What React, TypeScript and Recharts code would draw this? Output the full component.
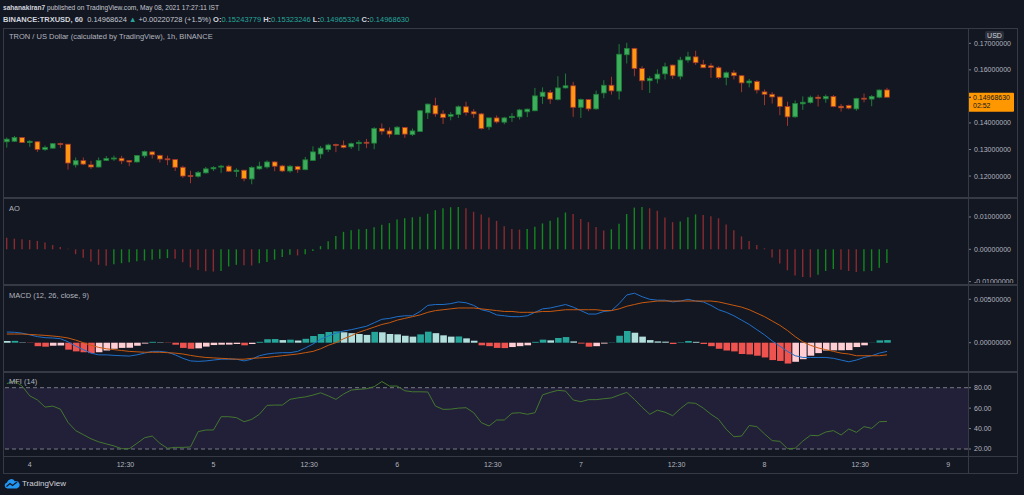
import React from 'react';
import { ComposedChart, Bar, Line, XAxis, YAxis, Cell, ReferenceLine, ReferenceArea } from 'recharts';

// TRXUSD 1h candles, first one is May 3 21:00 (index 0)
const ohlc: [number, number, number, number][] = [
  [0.1329, 0.1345, 0.1307, 0.1339], [0.1331, 0.1351, 0.1329, 0.1345], [0.1345, 0.1346, 0.1325, 0.1326], [0.1326, 0.1335, 0.1310, 0.1331],
  [0.1329, 0.1331, 0.1291, 0.1300], [0.1300, 0.1315, 0.1295, 0.1308], [0.1305, 0.1324, 0.1303, 0.1322], [0.1322, 0.1326, 0.1306, 0.1319],
  [0.1320, 0.1321, 0.1224, 0.1249], [0.1242, 0.1270, 0.1232, 0.1258], [0.1258, 0.1270, 0.1241, 0.1245], [0.1242, 0.1257, 0.1227, 0.1234],
  [0.1234, 0.1270, 0.1232, 0.1259], [0.1259, 0.1275, 0.1257, 0.1266], [0.1264, 0.1277, 0.1257, 0.1268], [0.1267, 0.1276, 0.1245, 0.1257],
  [0.1258, 0.1259, 0.1237, 0.1253], [0.1253, 0.1279, 0.1251, 0.1277], [0.1276, 0.1296, 0.1268, 0.1292], [0.1291, 0.1293, 0.1266, 0.1280],
  [0.1278, 0.1280, 0.1251, 0.1264], [0.1264, 0.1277, 0.1241, 0.1262], [0.1262, 0.1263, 0.1219, 0.1233], [0.1233, 0.1239, 0.1193, 0.1200],
  [0.1201, 0.1220, 0.1173, 0.1199], [0.1199, 0.1219, 0.1194, 0.1213], [0.1212, 0.1234, 0.1209, 0.1227], [0.1227, 0.1237, 0.1219, 0.1232],
  [0.1234, 0.1242, 0.1212, 0.1237], [0.1237, 0.1242, 0.1215, 0.1218], [0.1217, 0.1229, 0.1197, 0.1222], [0.1222, 0.1223, 0.1180, 0.1190],
  [0.1189, 0.1237, 0.1169, 0.1232], [0.1227, 0.1254, 0.1224, 0.1237], [0.1234, 0.1259, 0.1228, 0.1253], [0.1253, 0.1256, 0.1218, 0.1237],
  [0.1238, 0.1242, 0.1215, 0.1219], [0.1219, 0.1241, 0.1213, 0.1237], [0.1236, 0.1239, 0.1212, 0.1224], [0.1224, 0.1272, 0.1222, 0.1261],
  [0.1259, 0.1312, 0.1257, 0.1291], [0.1283, 0.1313, 0.1266, 0.1305], [0.1300, 0.1322, 0.1291, 0.1317], [0.1319, 0.1322, 0.1290, 0.1315],
  [0.1316, 0.1334, 0.1304, 0.1308], [0.1310, 0.1326, 0.1302, 0.1322], [0.1322, 0.1335, 0.1295, 0.1327], [0.1327, 0.1340, 0.1305, 0.1324],
  [0.1324, 0.1384, 0.1301, 0.1379], [0.1379, 0.1398, 0.1356, 0.1369], [0.1370, 0.1383, 0.1345, 0.1358], [0.1356, 0.1388, 0.1355, 0.1384],
  [0.1383, 0.1385, 0.1344, 0.1358], [0.1356, 0.1379, 0.1351, 0.1370], [0.1368, 0.1448, 0.1366, 0.1446], [0.1438, 0.1473, 0.1415, 0.1471],
  [0.1466, 0.1495, 0.1423, 0.1434], [0.1434, 0.1448, 0.1396, 0.1420], [0.1425, 0.1441, 0.1410, 0.1432], [0.1432, 0.1466, 0.1419, 0.1461],
  [0.1461, 0.1480, 0.1428, 0.1439], [0.1442, 0.1452, 0.1419, 0.1434], [0.1434, 0.1438, 0.1375, 0.1379], [0.1385, 0.1420, 0.1374, 0.1419],
  [0.1419, 0.1428, 0.1398, 0.1404], [0.1403, 0.1423, 0.1395, 0.1419], [0.1420, 0.1437, 0.1404, 0.1425], [0.1423, 0.1453, 0.1413, 0.1449],
  [0.1442, 0.1454, 0.1422, 0.1452], [0.1446, 0.1532, 0.1444, 0.1502], [0.1500, 0.1534, 0.1472, 0.1516], [0.1515, 0.1524, 0.1472, 0.1490],
  [0.1488, 0.1576, 0.1485, 0.1532], [0.1532, 0.1586, 0.1530, 0.1540], [0.1540, 0.1555, 0.1423, 0.1459], [0.1459, 0.1492, 0.1419, 0.1488],
  [0.1488, 0.1490, 0.1444, 0.1453], [0.1453, 0.1522, 0.1450, 0.1508], [0.1513, 0.1561, 0.1493, 0.1542], [0.1542, 0.1574, 0.1507, 0.1521],
  [0.1520, 0.1697, 0.1488, 0.1659], [0.1657, 0.1702, 0.1624, 0.1681], [0.1681, 0.1683, 0.1576, 0.1605], [0.1605, 0.1614, 0.1524, 0.1559],
  [0.1559, 0.1576, 0.1513, 0.1568], [0.1566, 0.1602, 0.1549, 0.1584], [0.1585, 0.1627, 0.1564, 0.1612], [0.1618, 0.1620, 0.1566, 0.1578],
  [0.1576, 0.1649, 0.1564, 0.1637], [0.1637, 0.1668, 0.1627, 0.1649], [0.1649, 0.1672, 0.1619, 0.1627], [0.1620, 0.1638, 0.1607, 0.1608],
  [0.1615, 0.1625, 0.1570, 0.1609], [0.1608, 0.1614, 0.1565, 0.1571], [0.1571, 0.1594, 0.1542, 0.1589], [0.1589, 0.1599, 0.1564, 0.1578],
  [0.1578, 0.1580, 0.1516, 0.1551], [0.1551, 0.1566, 0.1534, 0.1558], [0.1556, 0.1561, 0.1511, 0.1524], [0.1517, 0.1526, 0.1467, 0.1508],
  [0.1508, 0.1516, 0.1473, 0.1498], [0.1498, 0.1500, 0.1429, 0.1462], [0.1462, 0.1480, 0.1389, 0.1423], [0.1423, 0.1485, 0.1420, 0.1473],
  [0.1472, 0.1500, 0.1449, 0.1478], [0.1477, 0.1503, 0.1473, 0.1497], [0.1497, 0.1506, 0.1462, 0.1492], [0.1491, 0.1507, 0.1476, 0.1500],
  [0.1500, 0.1505, 0.1459, 0.1462], [0.1463, 0.1471, 0.1443, 0.1457], [0.1466, 0.1469, 0.1451, 0.1456], [0.1453, 0.1495, 0.1446, 0.1492],
  [0.1493, 0.1511, 0.1478, 0.1490], [0.1490, 0.1505, 0.1463, 0.1500], [0.1497, 0.1526, 0.1493, 0.1524], [0.15244, 0.15323, 0.14965, 0.14969],
];

const aoValues = [
  0.0036, 0.0033, 0.0031, 0.0029, 0.0026, 0.0021, 0.0013, 0.0007, 0.0002, -0.0015, -0.0026, -0.0038, -0.0048, -0.0051, -0.0046, -0.0043,
  -0.004, -0.0037, -0.0035, -0.0032, -0.0029, -0.0027, -0.0029, -0.004, -0.0056, -0.0064, -0.0068, -0.0069, -0.0067, -0.0053, -0.0048, -0.0049,
  -0.005, -0.0043, -0.0039, -0.0032, -0.0024, -0.0017, -0.0019, -0.0015, -0.0005, 0.001, 0.0025, 0.0041, 0.0054, 0.0059, 0.0062, 0.0063,
  0.0068, 0.0076, 0.0081, 0.0092, 0.0096, 0.0099, 0.0101, 0.011, 0.0121, 0.0127, 0.013, 0.0131, 0.0127, 0.0116, 0.0108, 0.0098,
  0.0088, 0.0071, 0.0063, 0.0061, 0.0063, 0.007, 0.008, 0.0088, 0.0098, 0.0114, 0.0109, 0.0094, 0.0084, 0.0069, 0.0058, 0.0062,
  0.0079, 0.0109, 0.0129, 0.0131, 0.0127, 0.0119, 0.0098, 0.0084, 0.0086, 0.0099, 0.0108, 0.0106, 0.0102, 0.0096, 0.0077, 0.0059,
  0.004, 0.0026, 0.0013, 0.0003, -0.0025, -0.0044, -0.0065, -0.0081, -0.0086, -0.0087, -0.0079, -0.0067, -0.0061, -0.0063, -0.0067, -0.007,
  -0.0068, -0.0067, -0.0057, -0.0042,
];

const macdHist = [
  0.0002, 0.00021, 0.00004, -0.00003, -0.0004, -0.00046, -0.00035, -0.00033, -0.0008, -0.001, -0.0011, -0.0012, -0.0011, -0.0009, -0.0007, -0.0006,
  -0.00058, -0.00035, -0.0001, 0.0001, 0.00004, -0.00003, -0.00023, -0.0006, -0.0007, -0.00065, -0.00045, -0.00027, -0.00023, -0.00022, -0.00015, -0.0003,
  -0.00015, 0.0001, 0.0004, 0.00042, 0.0003, 0.00035, 0.00025, 0.00045, 0.00077, 0.001, 0.00123, 0.0013, 0.0012, 0.0011, 0.001, 0.0009,
  0.00125, 0.0012, 0.001, 0.00096, 0.0008, 0.0007, 0.00096, 0.00127, 0.0011, 0.00085, 0.0007, 0.00072, 0.0005, 0.00023, -0.0003, -0.0004,
  -0.0006, -0.00062, -0.0005, -0.0004, -0.0003, 0.0001, 0.00035, 0.00027, 0.00054, 0.00065, 0.00015, -0.0001, -0.00046, -0.0004, -0.0001, 0.00003,
  0.0008, 0.00135, 0.00115, 0.0007, 0.0003, 0.00015, 0.00012, -0.00015, 0.00005, 0.0002, 0.0001, -0.00015, -0.0004, -0.0007, -0.0009, -0.001,
  -0.0013, -0.00135, -0.0015, -0.0017, -0.002, -0.0021, -0.0024, -0.0022, -0.0019, -0.0015, -0.0012, -0.0009, -0.00088, -0.00087, -0.00085, -0.0005,
  -0.0003, 0.00002, 0.00027, 0.0003,
];

const macdLine = [
  0.00123, 0.0012, 0.0011, 0.0009, 0.0007, 0.00058, 0.00054, 0.00046, 0.0001, -0.0004, -0.0008, -0.0012, -0.0014, -0.0014, -0.00146, -0.0015,
  -0.00154, -0.0014, -0.0012, -0.001, -0.001, -0.0011, -0.0014, -0.0018, -0.0021, -0.00215, -0.0021, -0.002, -0.0019, -0.0019, -0.0019, -0.0021,
  -0.0019, -0.0015, -0.0013, -0.0012, -0.00115, -0.00115, -0.001, -0.0006, -0.00015, 0.0004, 0.00077, 0.0011, 0.00135, 0.0015, 0.0017, 0.0019,
  0.0023, 0.0027, 0.0028, 0.003, 0.0031, 0.0031, 0.0036, 0.0043, 0.0044, 0.0044, 0.0045, 0.0047, 0.0046, 0.0043, 0.0038, 0.0036,
  0.0032, 0.0031, 0.003, 0.003, 0.0031, 0.0035, 0.0039, 0.004, 0.0042, 0.0044, 0.0041, 0.0037, 0.0033, 0.0033, 0.0036, 0.0037,
  0.0045, 0.0055, 0.0057, 0.0053, 0.005, 0.0049, 0.0049, 0.0047, 0.0048, 0.005, 0.0048, 0.0047, 0.0043, 0.0038, 0.0035, 0.0031,
  0.0026, 0.0021, 0.0015, 0.0009, 0.0002, -0.0004, -0.001, -0.0015, -0.0017, -0.0017, -0.0017, -0.0017, -0.0018, -0.002, -0.0022, -0.002,
  -0.0017, -0.0015, -0.0012, -0.001,
];

const macdSignal = [
  0.001, 0.001, 0.001, 0.00095, 0.0009, 0.00084, 0.00077, 0.00068, 0.00054, 0.0003, 0.0, -0.0003, -0.00054, -0.0007, -0.0008, -0.0009,
  -0.001, -0.00105, -0.0011, -0.0011, -0.0011, -0.00115, -0.0012, -0.0013, -0.00146, -0.0016, -0.0017, -0.00175, -0.0018, -0.00185, -0.0019, -0.0019,
  -0.0018, -0.00175, -0.0017, -0.0016, -0.0015, -0.0014, -0.0013, -0.00115, -0.001, -0.0007, -0.0003, 0.0, 0.00046, 0.0008, 0.0012, 0.0015,
  0.0018, 0.0021, 0.0023, 0.0026, 0.0028, 0.003, 0.0032, 0.0035, 0.0037, 0.0038, 0.0039, 0.004, 0.004, 0.004, 0.0039, 0.0038,
  0.0037, 0.0036, 0.0036, 0.0035, 0.0035, 0.0035, 0.0036, 0.0036, 0.0037, 0.0038, 0.0038, 0.0038, 0.0038, 0.0038, 0.0037, 0.0037,
  0.0039, 0.0042, 0.0044, 0.0046, 0.0047, 0.0048, 0.0048, 0.0048, 0.0048, 0.0048, 0.0048, 0.0048, 0.0048, 0.0047, 0.0045, 0.0043,
  0.0041, 0.0038, 0.0034, 0.003, 0.0025, 0.002, 0.0014, 0.0007, 0.0001, -0.0003, -0.0006, -0.0008, -0.001, -0.0012, -0.0013, -0.0015,
  -0.0015, -0.0015, -0.0015, -0.0014,
];

const mfiValues = [
  84, 86.5, 81.6, 72, 68, 61, 62, 59, 46, 38, 34, 30, 27, 25, 23, 20.3,
  20.3, 25.5, 31, 32.7, 25.5, 20.7, 21.6, 21.6, 22, 37, 38.6, 38.6, 51.6, 51.6, 50.7, 46.7,
  49, 54, 62.7, 63, 63, 68.6, 70, 71, 72.8, 75, 72, 68.6, 73.8, 77.7, 78.4, 79,
  81, 86, 81.6, 81.6, 77, 76, 76, 75.8, 62, 58.8, 59, 60, 60.4, 55.5, 45.8, 42.5,
  48.4, 48.4, 55, 55.5, 54, 55.5, 73, 75.4, 77.4, 76.7, 68, 66.3, 68.3, 68.3, 69.2, 70,
  72.8, 75.4, 68.6, 60.8, 54, 58, 56, 52.6, 59.5, 65.3, 64.7, 60, 54, 49, 39.2, 32,
  32.7, 43, 41.9, 34.7, 28.2, 27.5, 20.3, 20.7, 27.8, 33.4, 33, 36.6, 38, 33.7, 39.6, 36.3,
  41.9, 40.2, 46.7, 47,
];

// time axis: candle index of each label
const timeTicks = [3, 15.5, 27, 39.5, 51, 63.5, 75, 87.5, 99, 111.5, 123];
const timeLabels = ['4', '12:30', '5', '12:30', '6', '12:30', '7', '12:30', '8', '12:30', '9'];

const priceTicks = [0.12, 0.13, 0.14, 0.16, 0.17];
const aoTicks = [-0.01, 0, 0.01];
const macdTicks = [0, 0.005];
const mfiTicks = [20, 40, 60, 80];

const lastPrice = 0.1496863;
const countdown = '02:52';

const BG = '#131722';
const GRID = '#363a45';
const TEXT = '#b2b5be';
const BULL = '#3daf5c';
const BULL_LINE = '#1e7d37';
const BEAR = '#ff9810';
const BEAR_LINE = '#a3352c';
const AO_UP = '#13861f';
const AO_DOWN = '#882a2f';

const W = 1024;
const AXIS_W = 56;
const X_DOMAIN: [number, number] = [-0.5, 125.58];
const FONT = "'Liberation Sans', Arial, sans-serif";

const rows = ohlc.map(([open, high, low, close], i) => ({
  i,
  open,
  high,
  low,
  close,
  ao: aoValues[i],
  hist: macdHist[i],
  macd: macdLine[i],
  signal: macdSignal[i],
  mfi: mfiValues[i],
}));

const histColor = (v: number, prev: number) =>
  v >= 0 ? (v > prev ? '#26a69a' : '#b2dfdb') : v < prev ? '#ef5350' : '#ffcdd2';

const Candle = (props: any) => {
  const { x, y, width, height, payload } = props;
  if (!payload) return null;
  const { open, high, low, close } = payload;
  const up = close >= open;
  const top = Math.min(y, y + height);
  const h = Math.abs(height);
  const span = high - low || 1;
  const at = (v: number) => top + ((high - v) / span) * h;
  const cx = x + width / 2;
  let bTop = at(Math.max(open, close));
  let bBot = at(Math.min(open, close));
  if (bBot - bTop < 1) {
    const m = (bTop + bBot) / 2;
    bTop = m - 0.5;
    bBot = m + 0.5;
  }
  const line = up ? BULL_LINE : BEAR_LINE;
  return (
    <g>
      <line x1={cx} x2={cx} y1={top} y2={top + h} stroke={line} strokeWidth={1} />
      <rect x={x + 0.4} y={bTop} width={width - 0.8} height={bBot - bTop} fill={up ? BULL : BEAR} stroke={line} strokeWidth={0.8} />
    </g>
  );
};

const PriceTag = (props: any) => {
  const vb = props.viewBox || {};
  const x0 = (vb.x || 0) + (vb.width || 0);
  const y0 = vb.y || 0;
  return (
    <g>
      <rect x={x0} y={y0 - 4.5} width={46} height={19} fill="#ff9800" rx={1} />
      <line x1={x0} x2={x0 + 3} y1={y0} y2={y0} stroke="#131722" />
      <text x={x0 + 5} y={y0 + 3} fill="#131722" fontSize={7} fontFamily={FONT}>{lastPrice.toFixed(8)}</text>
      <text x={x0 + 5} y={y0 + 11} fill="#131722" fontSize={7} fontFamily={FONT}>{countdown}</text>
    </g>
  );
};

const tickStyle = { fill: TEXT, fontSize: 7, fontFamily: FONT };

function yAxisFor(domain: [number, number], ticks: number[], digits: number) {
  return (
    <YAxis
      orientation="right"
      type="number"
      width={AXIS_W}
      domain={domain}
      ticks={ticks}
      interval={0}
      allowDataOverflow
      axisLine={false}
      tickLine={{ stroke: '#787b86' }}
      tickSize={3}
      tickMargin={3}
      tick={tickStyle}
      tickFormatter={(v: number) => v.toFixed(digits)}
    />
  );
}

const hiddenX = <XAxis dataKey="i" type="number" domain={X_DOMAIN} allowDataOverflow hide />;

function Panel({ top, height, children }: { top: number; height: number; children: React.ReactNode }) {
  return (
    <div style={{ position: 'absolute', left: 0, top, width: W, height }}>
      <ComposedChart width={W} height={height} data={rows} margin={{ top: 0, right: 0, bottom: 0, left: 3 }}>
        {children}
      </ComposedChart>
    </div>
  );
}

const hLine = (top: number, h: number): React.CSSProperties => ({
  position: 'absolute', left: 3, top, width: 1014, height: h, background: GRID,
});

const label = (left: number, top: number): React.CSSProperties => ({
  position: 'absolute', left, top, fontSize: 7.5, color: TEXT, whiteSpace: 'nowrap', lineHeight: '9px',
});

export default function App() {
  const teal = { color: '#26a69a' };
  const bold = { fontWeight: 700, color: '#d1d4dc' };
  return (
    <div style={{ position: 'fixed', left: 0, top: 0, width: W, height: 495, background: BG, fontFamily: FONT, overflow: 'hidden' }}>
      <div style={{ ...label(3, 3), color: '#c4c7cf', fontSize: 6.6 }}>
        <span style={bold}>sahanakiran7</span> published on TradingView.com, May 08, 2021 17:27:11 IST
      </div>
      <div style={{ ...label(3, 14.5), color: '#c4c7cf' }}>
        <span style={bold}>BINANCE:TRXUSD, 60</span>&nbsp; 0.14968624 <span style={teal}>▲</span> +0.00220728 (+1.5%){' '}
        <span style={bold}>O:</span><span style={teal}>0.15243779</span> <span style={bold}>H:</span><span style={teal}>0.15323246</span>{' '}
        <span style={bold}>L:</span><span style={teal}>0.14965324</span> <span style={bold}>C:</span><span style={teal}>0.14968630</span>
      </div>

      <Panel top={29} height={168}>
        {hiddenX}
        {yAxisFor([0.1121, 0.1754], priceTicks, 8)}
        <Bar dataKey={(d: any) => [d.low, d.high]} barSize={5.6} shape={<Candle />} isAnimationActive={false} />
        <ReferenceLine y={lastPrice} stroke="none" ifOverflow="visible" label={<PriceTag />} />
      </Panel>

      <Panel top={199} height={84}>
        {hiddenX}
        {yAxisFor([-0.01042, 0.01556], aoTicks, 8)}
        <Bar dataKey="ao" barSize={1.4} isAnimationActive={false}>
          {aoValues.map((v, i) => (
            <Cell key={i} fill={i > 0 && v > aoValues[i - 1] ? AO_UP : AO_DOWN} />
          ))}
        </Bar>
      </Panel>

      <Panel top={285} height={85}>
        {hiddenX}
        {yAxisFor([-0.003145, 0.006648], macdTicks, 8)}
        <Bar dataKey="hist" barSize={6.6} isAnimationActive={false}>
          {macdHist.map((v, i) => (
            <Cell key={i} fill={histColor(v, i > 0 ? macdHist[i - 1] : v)} />
          ))}
        </Bar>
        <Line dataKey="macd" type="linear" stroke="#1f6fc8" strokeWidth={1} dot={false} isAnimationActive={false} />
        <Line dataKey="signal" type="linear" stroke="#c8590e" strokeWidth={1} dot={false} isAnimationActive={false} />
      </Panel>

      <div style={{ position: 'absolute', left: 0, top: 372, width: W, height: 101 }}>
        <ComposedChart width={W} height={101} data={rows} margin={{ top: 0, right: 0, bottom: 0, left: 3 }}>
          <XAxis
            dataKey="i"
            type="number"
            domain={X_DOMAIN}
            allowDataOverflow
            ticks={timeTicks}
            interval={0}
            height={17}
            axisLine={false}
            tickLine={false}
            tickSize={0}
            tickMargin={6}
            tick={tickStyle}
            tickFormatter={(v: number) => timeLabels[timeTicks.indexOf(v)]}
          />
          {yAxisFor([13.15, 95.37], mfiTicks, 2)}
          <ReferenceArea y1={20} y2={80} fill="#7e57c2" fillOpacity={0.14} stroke="none" ifOverflow="visible" />
          <ReferenceLine y={80} stroke="#787b86" strokeDasharray="4 3" />
          <ReferenceLine y={20} stroke="#787b86" strokeDasharray="4 3" />
          <Line dataKey="mfi" type="linear" stroke="#43772f" strokeWidth={1} dot={false} isAnimationActive={false} />
        </ComposedChart>
      </div>

      {/* frame and pane separators */}
      <div style={{ position: 'absolute', left: 3, top: 28, width: 1013, height: 444, border: `1px solid ${GRID}`, pointerEvents: 'none' }} />
      <div style={hLine(197, 2)} />
      <div style={hLine(283.5, 2)} />
      <div style={hLine(370.5, 2)} />
      <div style={hLine(456, 1)} />
      <div style={{ position: 'absolute', left: 968, top: 28, width: 1, height: 445, background: GRID }} />

      <div style={{ ...label(9, 31.5), fontSize: 7.5 }}>TRON / US Dollar (calculated by TradingView), 1h, BINANCE</div>
      <div style={label(9, 203.5)}>AO</div>
      <div style={label(9, 290.5)}>MACD (12, 26, close, 9)</div>
      <div style={label(9, 376.5)}>MFI (14)</div>

      <div style={{ position: 'absolute', left: 985, top: 30.5, width: 19, height: 9, background: '#2a2e39', borderRadius: 2, color: '#d1d4dc', fontSize: 7, lineHeight: '9px', textAlign: 'center' }}>USD</div>

      <div style={{ position: 'absolute', left: 4, top: 478, display: 'flex', alignItems: 'center', gap: 2 }}>
        <svg width={16} height={11} viewBox="0 0 16 11">
          <path d="M3.5 10.5 A3 3 0 0 1 3 4.6 A4.2 4.2 0 0 1 10.8 3.2 A3.3 3.3 0 0 1 12.8 10.5 Z" fill="#2196f3" />
          <polyline points="2.5,8.5 6,5.5 8.5,7.5 13,4" stroke={BG} strokeWidth={1.2} fill="none" />
        </svg>
        <span style={{ color: '#d1d4dc', fontSize: 8 }}>TradingView</span>
      </div>
    </div>
  );
}
